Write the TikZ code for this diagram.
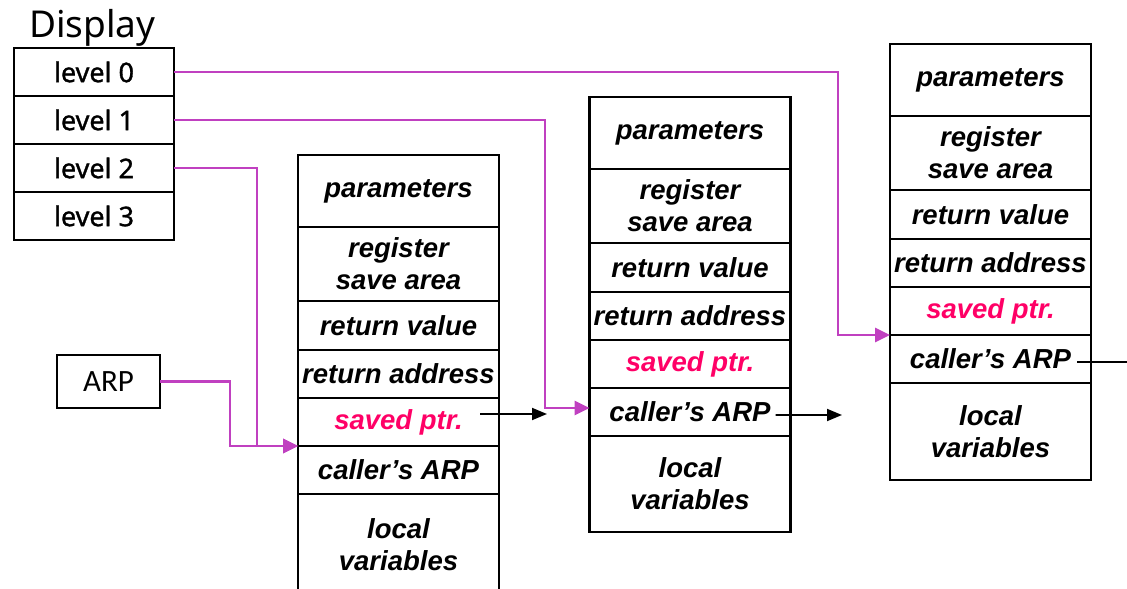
\documentclass[tikz,border=0pt]{standalone}
\usepackage{fontspec}
\setmainfont{Liberation Sans}
\newfontfamily\dispfont{Noto Sans}
\newfontfamily\levelfont[FakeBold=1.2]{Noto Sans}
\newfontfamily\arpfont{Carlito}
\usetikzlibrary{arrows.meta,calc}
\definecolor{mag}{RGB}{192,64,192}
\definecolor{pinkred}{RGB}{255,0,102}
\tikzset{
  cell/.style={draw, line width=2.2bp, minimum width=201bp, inner sep=0pt, outer sep=0pt, align=center,
    anchor=north, font=\fontsize{27.5bp}{32bp}\selectfont\bfseries\itshape},
  disp/.style={draw, line width=2.2bp, minimum width=160bp, minimum height=48bp, inner sep=0pt, outer sep=0pt,
    font=\levelfont\fontsize{27bp}{32bp}\selectfont},
  magline/.style={draw=mag, line width=2.8bp},
  magarrow/.style={magline, -{Triangle[length=15bp,width=14bp]}},
  blkarrow/.style={draw=black, line width=1.8bp, -{Triangle[length=15bp,width=12bp]}},
}
\newcommand\framestack[4]{%
  \node[cell, minimum height=72bp] (#1p) at (#2,#3) {parameters};
  \node[cell, minimum height=74bp] (#1r) at (#1p.south) {register\\save area};
  \node[cell, minimum height=49bp] (#1v) at (#1r.south) {return value};
  \node[cell, minimum height=48bp] (#1a) at (#1v.south) {return address};
  \node[cell, minimum height=48bp, text=pinkred] (#1s) at (#1a.south) {saved ptr.};
  \node[cell, minimum height=48bp] (#1c) at (#1s.south) {caller’s ARP};
  \node[cell, minimum height=#4] (#1l) at (#1c.south) {local\\variables};
}
\begin{document}
\begin{tikzpicture}[x=1bp, y=-1bp]
\useasboundingbox (0,0) rectangle (1127,589);

% Display
\node[anchor=base west, inner sep=0pt, font=\dispfont\fontsize{37bp}{42bp}\selectfont] (dtitle) at (29,38) {Display};
\node[disp] (d0) at (94,72) {level 0};
\node[disp] (d1) at (94,120) {level 1};
\node[disp] (d2) at (94,168) {level 2};
\node[disp] (d3) at (94,216) {level 3};

% ARP box
\node[draw, line width=1.8bp, minimum width=103bp, minimum height=53bp, inner sep=0pt, outer sep=0pt,
  font=\arpfont\fontsize{31bp}{36bp}\selectfont] (arp) at (108.5,381.5) {ARP};

% stacks
\framestack{A}{398.5}{155}{102bp}
\framestack{B}{690}{97}{96bp}
\framestack{C}{990.5}{44}{97bp}

% junction coordinates
\coordinate (j0) at (838,200);
\coordinate (j1) at (545,300);
\coordinate (j2) at (257,300);
\coordinate (j3) at (230,420);
\coordinate (tA) at (547,414);
\coordinate (tB) at (842,415);
\coordinate (tC) at (1145,362);

% magenta pointers
\draw[magarrow] (d0.east) -| (j0) |- (Cc.north west);
\draw[magarrow] (d1.east) -| (j1) |- ([yshift=4bp]Bc.west);
\draw[magarrow] (d2.east) -| (j2) |- (Ac.north west);
\draw[magarrow] (arp.east) -| (j3) |- (Ac.north west);

% black pointers
\draw[blkarrow] ([xshift=-19bp,yshift=8bp]As.east) -- (tA);
\draw[blkarrow] ([xshift=-15bp,yshift=-3bp]Bc.east) -- (tB);
\draw[blkarrow] ([xshift=-14bp,yshift=-3bp]Cc.east) -- (tC);
\end{tikzpicture}
\end{document}
